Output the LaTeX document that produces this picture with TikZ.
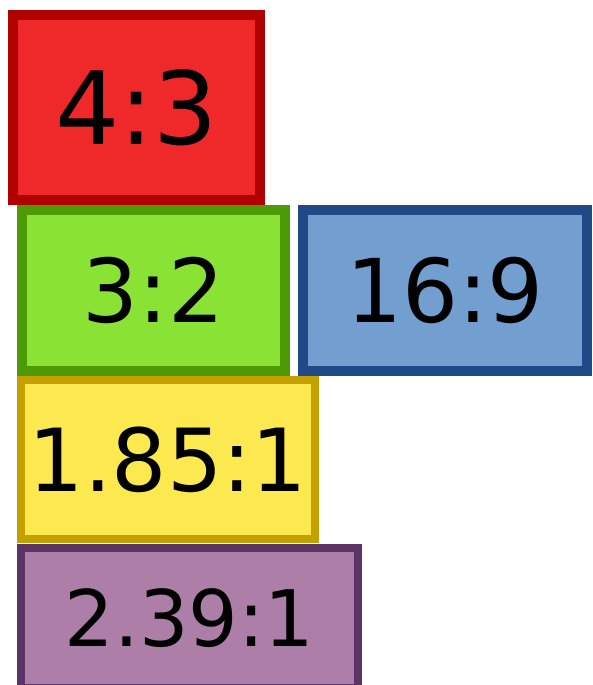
\documentclass[tikz,border=0pt]{standalone}
\usepackage{fontspec}
\setmainfont{DejaVu Sans}
\definecolor{redfill}{HTML}{EF2929}
\definecolor{redline}{HTML}{B00000}
\definecolor{greenfill}{HTML}{8AE234}
\definecolor{greenline}{HTML}{4E9A06}
\definecolor{bluefill}{HTML}{729FCF}
\definecolor{blueline}{HTML}{204A87}
\definecolor{yellowfill}{HTML}{FCE94F}
\definecolor{yellowline}{HTML}{C4A000}
\definecolor{purplefill}{HTML}{AD7FA8}
\definecolor{purpleline}{HTML}{5C3566}
\tikzset{
  ratiobox/.style={rectangle, inner sep=0pt, outer sep=0pt, text=black},
  sz/.style={font=\fontsize{#1}{#1}\selectfont}
}
\begin{document}
\begin{tikzpicture}[x=1pt,y=-1pt]
\useasboundingbox (0,0) rectangle (592,685);
\clip (0,0) rectangle (592,685);
\fill[white] (0,0) rectangle (592,685);
\node[ratiobox, fill=redfill, draw=redline, line width=10pt, minimum width=247pt, minimum height=185pt, sz=101] (r43) at (136.5,107.5) {4:3};
\node[ratiobox, fill=greenfill, draw=greenline, line width=10pt, minimum width=263pt, minimum height=161pt, sz=88] (r32) at (153.5,290.5) {3:2};
\node[ratiobox, fill=bluefill, draw=blueline, line width=10pt, minimum width=284pt, minimum height=161pt, sz=88] (r169) at (445,290.5) {16:9};
\node[ratiobox, fill=yellowfill, draw=yellowline, line width=8pt, minimum width=294pt, minimum height=159pt, sz=87] (r185) at (168,459.5) {1.85:1};
\node[ratiobox, fill=purplefill, draw=purpleline, line width=8pt, minimum width=337pt, minimum height=140pt, sz=78] (r239) at (189.5,618) {2.39:1};
\end{tikzpicture}
\end{document}
